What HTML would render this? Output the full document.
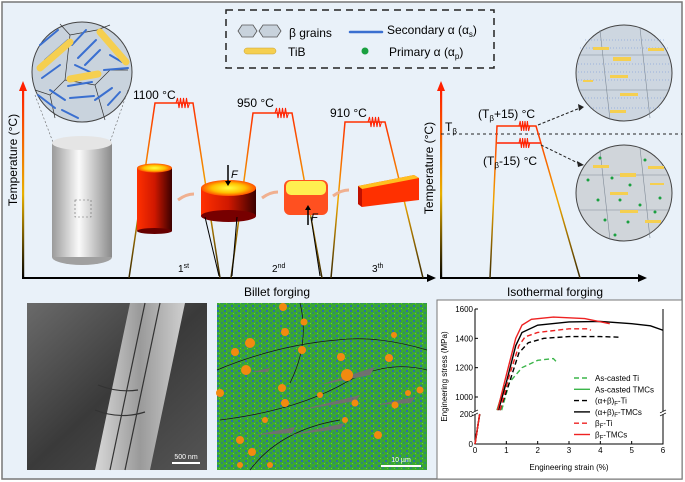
<!DOCTYPE html>
<html><head><meta charset="utf-8"><style>
html,body{margin:0;padding:0;background:#fff}
svg{display:block;font-family:"Liberation Sans",sans-serif}
</style></head><body>
<svg id="fig" width="685" height="482" viewBox="0 0 685 482">
<defs>
<linearGradient id="axg" x1="0" y1="1" x2="0" y2="0"><stop offset="0" stop-color="#000"/><stop offset="0.45" stop-color="#e8b000"/><stop offset="1" stop-color="#ff2000"/></linearGradient>
<linearGradient id="axgx" x1="0" y1="1" x2="0" y2="0"><stop offset="0" stop-color="#3a2a00"/><stop offset="0.5" stop-color="#f0a800"/><stop offset="1" stop-color="#ff3000"/></linearGradient>
<linearGradient id="gcyl" x1="0" x2="1"><stop offset="0" stop-color="#9a9a9a"/><stop offset="0.45" stop-color="#fafafa"/><stop offset="1" stop-color="#8a8a8a"/></linearGradient>
<linearGradient id="rcyl" x1="0" x2="1"><stop offset="0" stop-color="#ff3000"/><stop offset="0.5" stop-color="#d01800"/><stop offset="1" stop-color="#3a0000"/></linearGradient>
<radialGradient id="rtop"><stop offset="0" stop-color="#ffff40"/><stop offset="0.6" stop-color="#ffc000"/><stop offset="1" stop-color="#ff5000"/></radialGradient>
<linearGradient id="tem" x1="0" y1="0" x2="1" y2="1"><stop offset="0" stop-color="#6a6a6a"/><stop offset="0.5" stop-color="#3a3a3a"/><stop offset="1" stop-color="#555"/></linearGradient>
<linearGradient id="temb" x1="0" x2="1"><stop offset="0" stop-color="#d8d8d8"/><stop offset="0.5" stop-color="#9a9a9a"/><stop offset="1" stop-color="#cfcfcf"/></linearGradient>
<pattern id="ebsd" width="7" height="5" patternUnits="userSpaceOnUse"><rect width="7" height="5" fill="#3aa832"/><rect x="0" y="0" width="2" height="2" fill="#2a70a8"/><rect x="4" y="2" width="2" height="2" fill="#2f8a70"/><rect x="2" y="3" width="1" height="1" fill="#66cc33"/></pattern>
</defs>
<rect width="685" height="482" fill="#fff"/>
<rect x="2" y="2" width="680" height="477" fill="#e9f1f9" stroke="#777" stroke-width="1.5"/>

<g>
<rect x="226" y="10" width="268" height="58" fill="none" stroke="#222" stroke-width="1.5" stroke-dasharray="7,5"/>
<polygon points="238,31 242,25 253,25 257,31 253,37 242,37" fill="#c8d2dc" stroke="#555" stroke-width="0.8"/>
<polygon points="259,31 263,25 277,25 281,31 277,37 263,37" fill="#c8d2dc" stroke="#555" stroke-width="0.8"/>
<text x="289" y="37" font-size="12">β grains</text>
<line x1="350" y1="32" x2="382" y2="32" stroke="#3a6fd0" stroke-width="2.5" stroke-linecap="round"/>
<text x="387" y="34" font-size="12">Secondary α (α<tspan font-size="8" dy="3">s</tspan><tspan dy="-3">)</tspan></text>
<rect x="244" y="48" width="32" height="6" rx="3" fill="#f5cf50" stroke="#c9a030" stroke-width="0.5"/>
<text x="288" y="56" font-size="12">TiB</text>
<circle cx="365" cy="51" r="3.5" fill="#1aa040"/>
<text x="389" y="56" font-size="12">Primary α (α<tspan font-size="8" dy="3">p</tspan><tspan dy="-3">)</tspan></text>
</g>

<g>
<rect x="22" y="90" width="2.2" height="189" fill="url(#axg)"/>
<polygon points="19,91 27,91 23,81" fill="#ff2000"/>
<line x1="22" y1="278" x2="428" y2="278" stroke="#000" stroke-width="2"/>
<polygon points="427,274 427,282 436,278" fill="#000"/>
<text transform="translate(17,160) rotate(-90)" text-anchor="middle" font-size="12">Temperature (°C)</text>
<text x="277" y="296" text-anchor="middle" font-size="12">Billet forging</text>
<text x="178" y="272" font-size="10">1<tspan font-size="7" dy="-4">st</tspan></text>
<text x="272" y="272" font-size="10">2<tspan font-size="7" dy="-4">nd</tspan></text>
<text x="372" y="272" font-size="10">3<tspan font-size="7" dy="-4">th</tspan></text>
</g>

<g>
<circle cx="82" cy="72" r="50" fill="#c9d3dd" stroke="#444"/>
<g stroke="#333" stroke-width="0.7" fill="none"><path d="M60,24 L70,35 L97,30 L110,25 M70,35 L65,80 L50,95 L35,90 M65,80 L95,85 L110,70 L128,70 M95,85 L105,120 M50,95 L55,118"/></g>
<g stroke="#3a6fd0" stroke-width="2" stroke-linecap="round">
<line x1="40" y1="45" x2="58" y2="30"/><line x1="45" y1="60" x2="68" y2="40"/><line x1="42" y1="78" x2="60" y2="65"/>
<line x1="72" y1="45" x2="86" y2="30"/><line x1="78" y1="58" x2="96" y2="40"/><line x1="85" y1="65" x2="100" y2="50"/>
<line x1="105" y1="40" x2="115" y2="52"/><line x1="110" y1="55" x2="122" y2="62"/><line x1="104" y1="70" x2="128" y2="68"/>
<line x1="38" y1="95" x2="55" y2="108"/><line x1="50" y1="90" x2="65" y2="100"/><line x1="68" y1="86" x2="92" y2="82"/>
<line x1="70" y1="98" x2="94" y2="96"/><line x1="95" y1="100" x2="112" y2="88"/><line x1="108" y1="105" x2="120" y2="92"/>
<line x1="62" y1="110" x2="78" y2="118"/><line x1="75" y1="65" x2="90" y2="72"/></g>
<g stroke="#f5cf50" stroke-width="7" stroke-linecap="round"><line x1="40" y1="68" x2="70" y2="42"/><line x1="100" y1="32" x2="126" y2="62"/><line x1="70" y1="79" x2="98" y2="74"/></g>
<g stroke="#666" stroke-width="0.6" stroke-dasharray="2,2" fill="none"><line x1="35" y1="95" x2="75" y2="200"/><line x1="128" y1="90" x2="90" y2="200"/></g>
</g>

<g>
<ellipse cx="82" cy="257" rx="30" ry="8" fill="#a0a0a0"/>
<rect x="52" y="143" width="60" height="114" fill="url(#gcyl)"/>
<ellipse cx="82" cy="143" rx="30" ry="7" fill="#e5e5e5"/>
<g stroke="#666" stroke-width="0.6" stroke-dasharray="2,2" fill="none"><rect x="75" y="200" width="16" height="17"/></g>
</g>

<g fill="none" stroke-width="1.5">
<path d="M129,278 L155,103 L193,103 L220,278" stroke="url(#axgx)"/>
<path d="M231,278 L253,113 L292,113 L322,278" stroke="url(#axgx)"/>
<path d="M331,278 L345,122 L385,122 L423,278" stroke="url(#axgx)"/>
<path d="M176,103 l1.5,-5 l1.5,10 l1.5,-10 l1.5,10 l1.5,-10 l1.5,10 l1.5,-10 l1.5,10 l1.5,-5" stroke="#ff2000" stroke-width="1"/>
<path d="M275,113 l1.5,-5 l1.5,10 l1.5,-10 l1.5,10 l1.5,-10 l1.5,10 l1.5,-10 l1.5,10 l1.5,-5" stroke="#ff2000" stroke-width="1"/>
<path d="M368,122 l1.5,-5 l1.5,10 l1.5,-10 l1.5,10 l1.5,-10 l1.5,10 l1.5,-10 l1.5,10 l1.5,-5" stroke="#ff2000" stroke-width="1"/>
</g>
<text x="133" y="99" font-size="12">1100 °C</text>
<text x="237" y="107" font-size="12">950 °C</text>
<text x="330" y="117" font-size="12">910 °C</text>

<g>
<rect x="137" y="168" width="35" height="63" fill="url(#rcyl)"/><ellipse cx="154.5" cy="231" rx="17.5" ry="3" fill="#600"/>
<ellipse cx="154.5" cy="168" rx="17.5" ry="4.5" fill="url(#rtop)"/>
<rect x="201" y="188" width="55" height="28" fill="url(#rcyl)"/><ellipse cx="228.5" cy="216" rx="27.5" ry="6" fill="#700"/>
<ellipse cx="228.5" cy="188" rx="27.5" ry="8" fill="url(#rtop)"/>
<rect x="284" y="180" width="44" height="35" rx="6" fill="#ff5020"/>
<rect x="286" y="181" width="40" height="14" rx="5" fill="#ffef50"/>
<polygon points="358,186 414,175 419,178 419,200 362,207 358,204" fill="#ff3000"/>
<polygon points="358,186 414,175 419,178 362,189" fill="#ffc020"/>
<polygon points="358,186 362,189 362,207 358,204" fill="#c01000"/>
<g stroke="#f0b090" stroke-width="3" fill="none"><path d="M178,200 q8,-6 16,-6"/><path d="M262,198 q8,-6 16,-6"/><path d="M333,196 q8,-6 16,-6"/></g>
<g stroke="#000" stroke-width="1.5"><line x1="228" y1="165" x2="228" y2="183"/><line x1="308" y1="225" x2="308" y2="208"/></g>
<polygon points="225,181 231,181 228,186" fill="#000"/><polygon points="305,210 311,210 308,205" fill="#000"/>
<text x="231" y="178" font-size="11" font-style="italic">F</text><text x="311" y="221" font-size="11" font-style="italic">F</text>
<g stroke="#000" stroke-width="1"><line x1="205" y1="217" x2="219" y2="276"/><line x1="237" y1="217" x2="232" y2="276"/><line x1="311" y1="217" x2="320" y2="276"/></g>
</g>

<g>
<rect x="440" y="90" width="2.2" height="189" fill="url(#axg)"/>
<polygon points="437,91 445,91 441,81" fill="#ff2000"/>
<line x1="440" y1="278" x2="640" y2="278" stroke="#000" stroke-width="2"/>
<polygon points="638,274 638,282 647,278" fill="#000"/>
<text transform="translate(433,168) rotate(-90)" text-anchor="middle" font-size="12">Temperature (°C)</text>
<text x="555" y="296" text-anchor="middle" font-size="12">Isothermal forging</text>
<line x1="441" y1="134" x2="682" y2="134" stroke="#222" stroke-dasharray="3,3"/>
<text x="445" y="131" font-size="12">T<tspan font-size="8" dy="3">β</tspan></text>
<path d="M490,278 L497,126 L536,126 L580,278" fill="none" stroke="url(#axgx)" stroke-width="1.5"/>
<path d="M497,143 L541,143" fill="none" stroke="#ff2000" stroke-width="1.5"/>
<path d="M519,126 l1.2,-5 l1.2,10 l1.2,-10 l1.2,10 l1.2,-10 l1.2,10 l1.2,-10 l1.2,10 l1.2,-5" fill="none" stroke="#ff2000"/>
<path d="M519,143 l1.2,-5 l1.2,10 l1.2,-10 l1.2,10 l1.2,-10 l1.2,10 l1.2,-10 l1.2,10 l1.2,-5" fill="none" stroke="#ff2000"/>
<text x="478" y="118" font-size="12">(T<tspan font-size="8" dy="3">β</tspan><tspan dy="-3">+15) °C</tspan></text>
<text x="483" y="165" font-size="12">(T<tspan font-size="8" dy="3">β</tspan><tspan dy="-3">-15) °C</tspan></text>
<g stroke="#222" stroke-dasharray="3,2" fill="none"><line x1="538" y1="125" x2="580" y2="108"/><line x1="541" y1="145" x2="580" y2="164"/></g>
<polygon points="578,104 584,107 579,111" fill="#222"/><polygon points="577,161 584,165 578,167" fill="#222"/>
</g>
<g>
<circle cx="624" cy="73" r="48" fill="#cdd6e0" stroke="#444"/>
<g stroke="#7f8a96" stroke-width="0.6" fill="none"><path d="M580,55 L668,55 M578,90 L670,90 M600,30 L610,120 M640,28 L650,118"/></g>
<g stroke="#6a8fd8" stroke-width="0.6" stroke-dasharray="1,2"><path d="M585,40 L665,40 M580,48 L668,48 M578,64 L670,64 M578,72 L670,72 M578,80 L670,80 M582,98 L666,98 M590,108 L660,108"/></g>
<g fill="#f5cf50"><rect x="593" y="47" width="16" height="3"/><rect x="613" y="57" width="18" height="4"/><rect x="648" y="48" width="16" height="3"/><rect x="610" y="75" width="18" height="3"/><rect x="620" y="93" width="18" height="3"/><rect x="610" y="110" width="16" height="3"/><rect x="583" y="80" width="10" height="2"/></g>
</g>
<g>
<circle cx="624" cy="193" r="48" fill="#d0d5da" stroke="#444"/>
<g stroke="#7f8a96" stroke-width="0.6" fill="none"><path d="M580,175 L668,175 M578,210 L670,210 M600,150 L610,240 M640,148 L650,238"/></g>
<g fill="#f5cf50"><rect x="593" y="165" width="16" height="3"/><rect x="620" y="173" width="16" height="4"/><rect x="648" y="166" width="16" height="3"/><rect x="610" y="192" width="18" height="3"/><rect x="620" y="210" width="18" height="3"/><rect x="645" y="220" width="16" height="3"/><rect x="650" y="183" width="14" height="2"/></g>
<g fill="#1aa040"><circle cx="600" cy="158" r="1.5"/><circle cx="612" cy="178" r="1.5"/><circle cx="630" cy="185" r="1.5"/><circle cx="645" cy="160" r="1.5"/><circle cx="598" cy="200" r="1.5"/><circle cx="620" cy="200" r="1.5"/><circle cx="640" cy="205" r="1.5"/><circle cx="660" cy="198" r="1.5"/><circle cx="605" cy="220" r="1.5"/><circle cx="628" cy="222" r="1.5"/><circle cx="588" cy="180" r="1.5"/><circle cx="655" cy="212" r="1.5"/><circle cx="615" cy="235" r="1.5"/></g>
</g>

<g>
<rect x="27" y="303" width="180" height="167" fill="url(#tem)"/>
<polygon points="95,470 130,303 185,303 150,470" fill="url(#temb)"/>
<g stroke="#333" stroke-width="1.2" fill="none"><path d="M110,470 L145,303 M125,470 L160,303 M98,385 q20,8 40,5 M95,410 q25,10 50,2"/></g>
<rect x="172" y="462" width="28" height="2" fill="#fff"/>
<text x="186" y="459" text-anchor="middle" font-size="7" fill="#fff">500 nm</text>
</g>

<g>
<rect x="217" y="303" width="210" height="167" fill="url(#ebsd)"/>
<g stroke="#111" stroke-width="0.7" fill="none"><path d="M217,370 q60,-25 120,-30 q40,-5 90,10 M220,420 q80,-10 130,-40 q40,-20 77,-10 M250,470 q30,-40 90,-50 M300,303 q10,40 -10,80"/></g>
<g fill="#707070"><path d="M252,372 l18,-4 l-2,4z"/><path d="M320,385 l55,-18 l-5,8z"/><path d="M300,410 l60,-15 l-4,6z"/><path d="M255,435 l40,-8 l-3,6z"/><path d="M290,435 l55,-12 l-5,6z"/><path d="M375,405 l40,-8 l-4,6z"/></g>
<g fill="#f28a10"><circle cx="283" cy="307" r="4"/><circle cx="304" cy="322" r="3.5"/><circle cx="285" cy="332" r="4"/><circle cx="250" cy="343" r="5"/><circle cx="235" cy="352" r="4"/><circle cx="302" cy="350" r="4"/><circle cx="341" cy="357" r="4"/><circle cx="246" cy="370" r="5"/><circle cx="220" cy="393" r="4"/><circle cx="282" cy="388" r="4"/><circle cx="347" cy="375" r="6"/><circle cx="389" cy="358" r="4"/><circle cx="285" cy="403" r="4"/><circle cx="320" cy="395" r="3"/><circle cx="355" cy="403" r="3.5"/><circle cx="395" cy="405" r="3.5"/><circle cx="408" cy="393" r="3"/><circle cx="240" cy="440" r="4"/><circle cx="252" cy="452" r="4"/><circle cx="265" cy="420" r="3"/><circle cx="378" cy="435" r="4"/><circle cx="240" cy="465" r="3"/><circle cx="420" cy="390" r="3.5"/><circle cx="394" cy="335" r="3"/><circle cx="270" cy="465" r="3"/><circle cx="345" cy="420" r="3"/></g>
<rect x="381" y="465" width="40" height="2" fill="#fff"/>
<text x="401" y="462" text-anchor="middle" font-size="7" fill="#fff">10 µm</text>
</g>

<rect x="437" y="300" width="245" height="179" fill="#fff" stroke="#777"/>
<g id="chart"></g>
</svg>
<script>
const xTicks = [0,1,2,3,4,5,6];
const yTicksUpper = [1000,1200,1400,1600];
const yTicksLower = [0,200];
const seriesNames = ["As-casted Ti","As-casted TMCs","(α+β)|F|-Ti","(α+β)|F|-TMCs","β|F|-Ti","β|F|-TMCs"];
const seriesColors = ["#3bb54a","#3bb54a","#000","#000","#ee2222","#ee2222"];
const seriesDashed = [true,false,true,false,true,false];
const strainCastTi = [0,0.15,0.85,1.1,1.5,2.0,2.5,2.6];
const stressCastTi = [0,200,910,1100,1200,1250,1262,1240];
const strainCastTMC = [0,0.15,0.7,0.95];
const stressCastTMC = [0,200,910,1080];
const strainABTi = [0,0.15,0.8,1.1,1.4,1.7,2.2,3.0,4.0,4.6];
const stressABTi = [0,200,910,1100,1300,1370,1400,1412,1412,1408];
const strainABTMC = [0,0.15,0.75,1.0,1.3,1.5,2.0,3.0,4.0,5.0,5.6,6.0];
const stressABTMC = [0,200,910,1100,1350,1440,1490,1512,1515,1500,1485,1455];
const strainBTi = [0,0.15,0.8,1.1,1.4,1.6,2.0,3.0,3.6,3.7];
const stressBTi = [0,200,910,1150,1350,1410,1440,1465,1465,1455];
const strainBTMC = [0,0.15,0.72,1.0,1.3,1.5,1.8,2.5,3.5,4.3];
const stressBTMC = [0,200,910,1150,1400,1490,1530,1545,1535,1500];
const strains = [strainCastTi,strainCastTMC,strainABTi,strainABTMC,strainBTi,strainBTMC];
const stresses = [stressCastTi,stressCastTMC,stressABTi,stressABTMC,stressBTi,stressBTMC];

const NS="http://www.w3.org/2000/svg";
const g=document.getElementById('chart');
const X0=475,X1=663,YTOP=309,YBOT=444;
function xs(v){return X0+v*(X1-X0)/6;}
function ys(v){return v>=900 ? YTOP+(1600-v)*(397-YTOP)/600 : YBOT-v*30/200;}
function mk(tag,attrs,parent){const e=document.createElementNS(NS,tag);for(const k in attrs)e.setAttribute(k,attrs[k]);(parent||g).appendChild(e);return e;}
function txt(x,y,s,attrs){const e=mk('text',Object.assign({x:x,y:y,'font-size':8},attrs||{}));e.textContent=s;return e;}

let ax=mk('path',{d:`M${X0},${YTOP} V${YBOT} H${X1} V${YTOP}`,fill:'none',stroke:'#000','stroke-width':1});


for(const t of xTicks){
  mk('line',{x1:xs(t),x2:xs(t),y1:YBOT,y2:YBOT-3,stroke:'#000'});
  const l=txt(xs(t),YBOT+9,String(t),{'text-anchor':'middle'});
  
  
}
for(const t of yTicksUpper.concat(yTicksLower)){
  mk('line',{x1:X0,x2:X0+3,y1:ys(t),y2:ys(t),stroke:'#000'});
  const l=txt(X0-2,ys(t)+3,String(t),{'text-anchor':'end'});
  
  
}
const yb=ys(905)+2;
mk('rect',{x:X0-3,y:yb-1.5,width:6,height:3,fill:'#fff'});
mk('rect',{x:X1-3,y:yb-1.5,width:6,height:3,fill:'#fff'});
mk('path',{d:`M${X0-3},${yb} l6,-3 M${X0-3},${yb+3} l6,-3 M${X1-3},${yb} l6,-3 M${X1-3},${yb+3} l6,-3`,stroke:'#000','stroke-width':0.7});
const xt=txt((X0+X1)/2,470,'Engineering strain (%)',{'text-anchor':'middle'});


const yt=txt(0,0,'Engineering stress (MPa)',{'text-anchor':'middle',transform:`translate(447,${(YTOP+YBOT)/2}) rotate(-90)`});



for(let i=0;i<seriesNames.length;i++){
  const sx=strains[i],sy=stresses[i];
  const low='M'+xs(sx[0])+','+ys(sy[0])+' L'+xs(sx[1])+','+ys(sy[1]);
  let up='M'+xs(sx[2])+','+ys(sy[2]);
  for(let j=3;j<sx.length;j++) up+=' L'+xs(sx[j])+','+ys(sy[j]);
  const a={fill:'none',stroke:seriesColors[i],'stroke-width':1.4};
  if(seriesDashed[i]) a['stroke-dasharray']='5,3';
  const p=mk('path',Object.assign({d:low+' '+up},a));
  
  
  const ly=378+i*11.3;
  const ll=mk('line',Object.assign({x1:574,x2:590,y1:ly,y2:ly},a));
  
  
  const parts=seriesNames[i].split('|');
  const lt=mk('text',{x:595,y:ly+3,'font-size':8});
  parts.forEach((s,k)=>{const ts=document.createElementNS(NS,'tspan');ts.textContent=s;if(k===1){ts.setAttribute('font-size','6');ts.setAttribute('dy','2');}if(k===2)ts.setAttribute('dy','-2');lt.appendChild(ts);});
  
  
}
</script>
</body></html>
